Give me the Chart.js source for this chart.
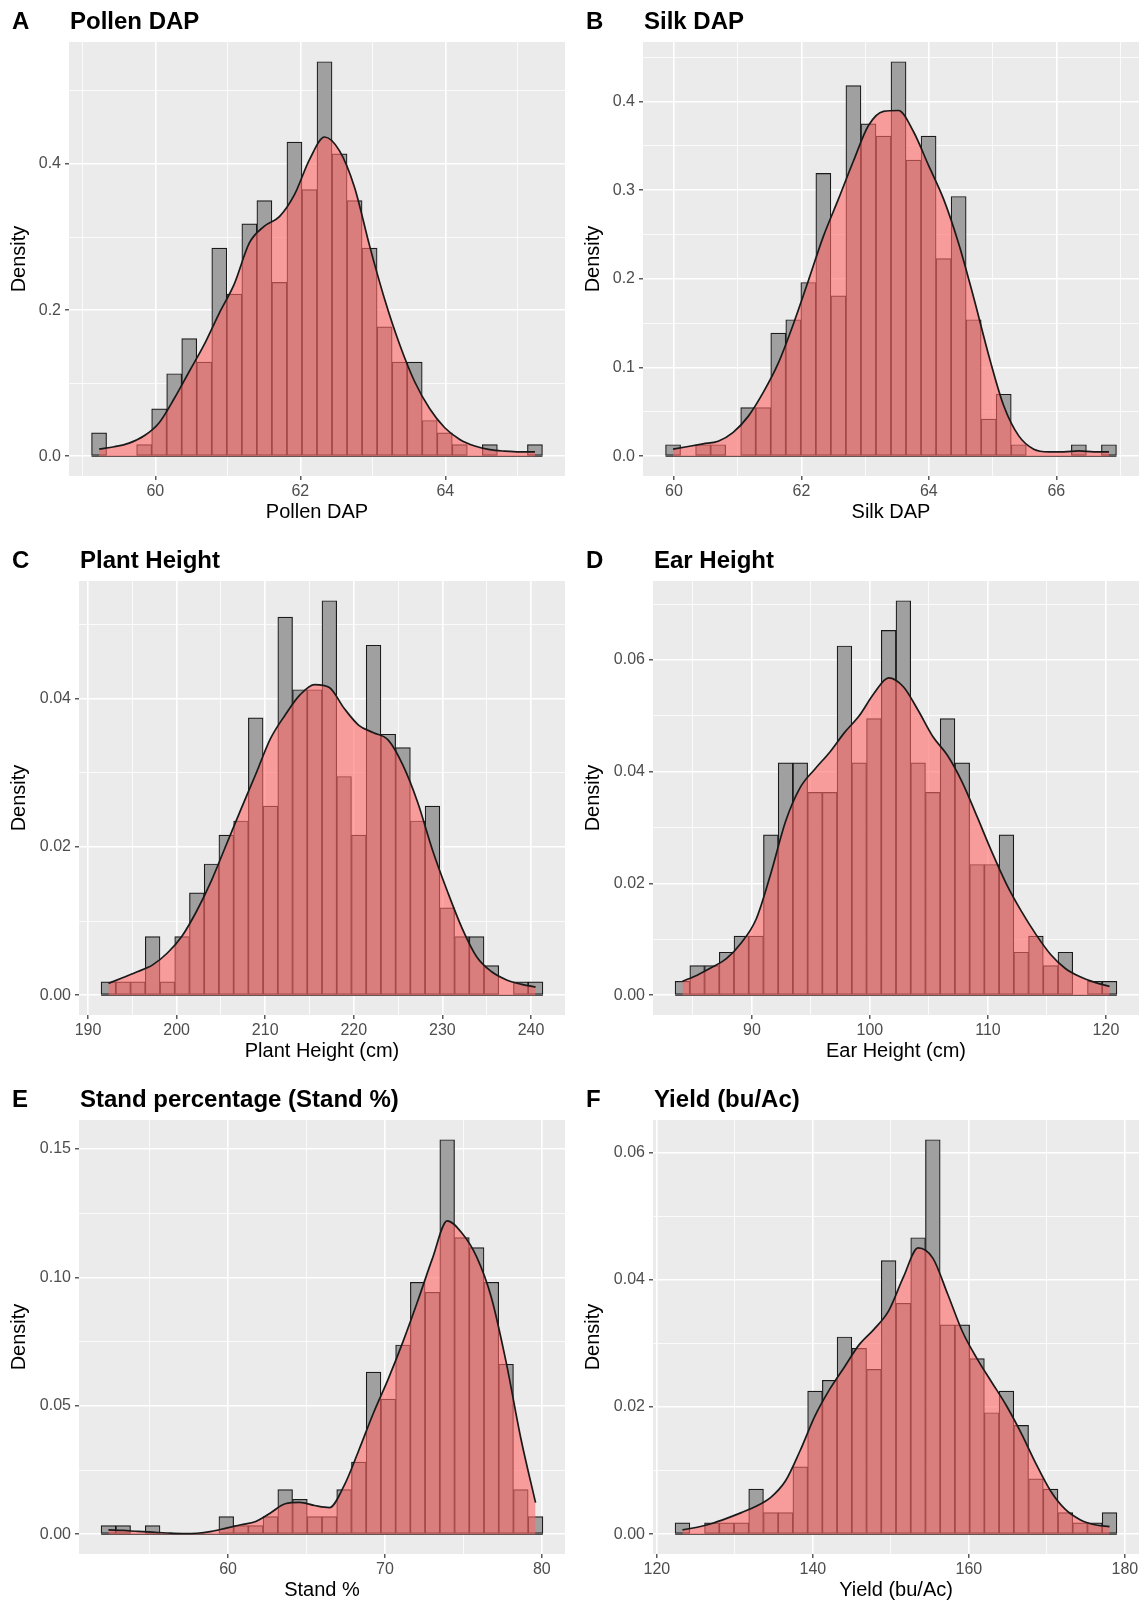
<!DOCTYPE html>
<html>
<head>
<meta charset="utf-8">
<script src="https://cdn.jsdelivr.net/npm/chart.js@4.4.1/dist/chart.umd.min.js"></script>
<style>
  body { margin: 0; background: #fff; width: 1140px; height: 1606px; overflow: hidden; position: relative;
         font-family: "Liberation Sans", Arial, sans-serif; }
  .cell { position: absolute; width: 574px; height: 539px; }
  .cell canvas { position: absolute; left: 0; top: 0; }
  .tag, .ttl { position: absolute; top: 9px; font-size: 24px; line-height: 24px; font-weight: bold; color: #000; white-space: nowrap; }
  .tag { left: 12px; }
</style>
</head>
<body>
<script>
// histogramas de densidad (30 bins) + curva de densidad

// A - Pollen DAP
const pollenStart = 59.12, pollenWidth = 0.2073;
const pollenBars = [0.032, 0, 0, 0.016, 0.065, 0.113, 0.161, 0.129, 0.285, 0.222, 0.318, 0.350, 0.238, 0.430, 0.365,
                    0.540, 0.414, 0.350, 0.285, 0.177, 0.129, 0.129, 0.049, 0.032, 0.016, 0, 0.016, 0, 0, 0.016];
const pollenDens = [0.010, 0.013, 0.018, 0.028, 0.046, 0.079, 0.116, 0.153, 0.196, 0.236, 0.292, 0.315, 0.328, 0.358, 0.406,
                    0.437, 0.418, 0.368, 0.288, 0.215, 0.153, 0.102, 0.065, 0.039, 0.023, 0.014, 0.009, 0.007, 0.006, 0.006];
const pollenXMajor = [60, 62, 64], pollenXMinor = [59, 61, 63, 65];
const pollenYMajor = [0, 0.2, 0.4], pollenYMinor = [0.1, 0.3, 0.5];

// B - Silk DAP
const silkStart = 59.869, silkWidth = 0.2358;
const silkBars = [0.013, 0, 0.013, 0.013, 0, 0.055, 0.055, 0.139, 0.154, 0.196, 0.319, 0.181, 0.418, 0.375, 0.361,
                  0.445, 0.334, 0.361, 0.223, 0.293, 0.154, 0.042, 0.070, 0.013, 0, 0, 0, 0.013, 0, 0.013];
const silkDens = [0.008, 0.011, 0.014, 0.017, 0.027, 0.045, 0.072, 0.105, 0.149, 0.198, 0.248, 0.290, 0.333, 0.373, 0.389,
                  0.390, 0.366, 0.328, 0.290, 0.240, 0.179, 0.114, 0.057, 0.023, 0.008, 0.005, 0.005, 0.006, 0.005, 0.005];
const silkXMajor = [60, 62, 64, 66], silkXMinor = [61, 63, 65, 67];
const silkYMajor = [0, 0.1, 0.2, 0.3, 0.4], silkYMinor = [0.05, 0.15, 0.25, 0.35, 0.45];

// C - Plant Height
const plantStart = 191.48, plantWidth = 1.662;
const plantBars = [0.0018, 0.0018, 0.0018, 0.0079, 0.0018, 0.0079, 0.0138, 0.0177, 0.0216, 0.0235, 0.0374, 0.0255, 0.0510, 0.0412, 0.0412,
                   0.0532, 0.0295, 0.0216, 0.0472, 0.0352, 0.0334, 0.0235, 0.0255, 0.0118, 0.0079, 0.0079, 0.0040, 0, 0.0018, 0.0018];
const plantDens = [0.0016, 0.0024, 0.0032, 0.0041, 0.0057, 0.0080, 0.0114, 0.0155, 0.0203, 0.0251, 0.0298, 0.0346, 0.0378, 0.0405, 0.0419,
                   0.0415, 0.0387, 0.0364, 0.0354, 0.0344, 0.0310, 0.0260, 0.0196, 0.0141, 0.0091, 0.0052, 0.0032, 0.0021, 0.0015, 0.0011];
const plantXMajor = [190, 200, 210, 220, 230, 240], plantXMinor = [195, 205, 215, 225, 235];
const plantYMajor = [0, 0.02, 0.04], plantYMinor = [0.01, 0.03, 0.05];

// D - Ear Height
const earStart = 83.49, earWidth = 1.248;
const earBars = [0.0025, 0.0053, 0.0053, 0.0077, 0.0106, 0.0106, 0.0287, 0.0416, 0.0416, 0.0363, 0.0363, 0.0625, 0.0416, 0.0495, 0.0653,
                 0.0706, 0.0416, 0.0363, 0.0495, 0.0416, 0.0234, 0.0234, 0.0287, 0.0077, 0.0106, 0.0053, 0.0077, 0, 0.0025, 0.0025];
const earDens = [0.0025, 0.0036, 0.0050, 0.0066, 0.0094, 0.0136, 0.0218, 0.0311, 0.0372, 0.0405, 0.0435, 0.0470, 0.0500, 0.0540, 0.0568,
                 0.0552, 0.0510, 0.0463, 0.0429, 0.0381, 0.0320, 0.0257, 0.0199, 0.0151, 0.0109, 0.0073, 0.0048, 0.0033, 0.0023, 0.0016];
const earXMajor = [90, 100, 110, 120], earXMinor = [85, 95, 105, 115];
const earYMajor = [0, 0.02, 0.04, 0.06], earYMinor = [0.01, 0.03, 0.05, 0.07];

// E - Stand %
const standStart = 51.91, standWidth = 0.9386;
const standBars = [0.0034, 0.0034, 0, 0.0034, 0, 0, 0, 0, 0.0069, 0.0034, 0.0034, 0.0069, 0.0174, 0.0136, 0.0069,
                   0.0069, 0.0174, 0.0281, 0.0631, 0.0526, 0.0737, 0.0981, 0.0942, 0.1536, 0.1155, 0.1116, 0.0981, 0.0662, 0.0174, 0.0069];
const standDens = [0.0017, 0.0015, 0.0011, 0.0008, 0.0005, 0.0003, 0.0004, 0.0011, 0.0024, 0.0037, 0.0050, 0.0083, 0.0119, 0.0124, 0.0112,
                   0.0104, 0.0189, 0.0327, 0.0473, 0.0605, 0.0750, 0.0908, 0.1074, 0.1220, 0.1173, 0.1080, 0.0922, 0.0671, 0.0374, 0.0123];
const standXMajor = [60, 70, 80], standXMinor = [55, 65, 75];
const standYMajor = [0, 0.05, 0.10, 0.15], standYMinor = [0.025, 0.075, 0.125];

// F - Yield
const yieldStart = 122.34, yieldWidth = 1.888;
const yieldBars = [0.0018, 0, 0.0018, 0.0018, 0.0018, 0.0071, 0.0034, 0.0034, 0.0106, 0.0225, 0.0242, 0.0310, 0.0292, 0.0259, 0.0430,
                   0.0363, 0.0466, 0.0620, 0.0329, 0.0329, 0.0276, 0.0191, 0.0225, 0.0171, 0.0087, 0.0071, 0.0034, 0.0018, 0.0018, 0.0034];
const yieldDens = [0.0007, 0.0011, 0.0017, 0.0025, 0.0034, 0.0044, 0.0058, 0.0084, 0.0132, 0.0186, 0.0228, 0.0263, 0.0298, 0.0322, 0.0351,
                   0.0404, 0.0450, 0.0434, 0.0378, 0.0319, 0.0276, 0.0239, 0.0202, 0.0159, 0.0111, 0.0068, 0.0039, 0.0023, 0.0015, 0.0012];
const yieldXMajor = [120, 140, 160, 180], yieldXMinor = [130, 150, 170];
const yieldYMajor = [0, 0.02, 0.04, 0.06], yieldYMinor = [0.01, 0.03, 0.05];

const panels = [
  { tag: 'A', title: 'Pollen DAP', xTitle: 'Pollen DAP', start: pollenStart, width: pollenWidth, bars: pollenBars, dens: pollenDens,
    xMajor: pollenXMajor, xMinor: pollenXMinor, yMajor: pollenYMajor, yMinor: pollenYMinor, digits: 1 },
  { tag: 'B', title: 'Silk DAP', xTitle: 'Silk DAP', start: silkStart, width: silkWidth, bars: silkBars, dens: silkDens,
    xMajor: silkXMajor, xMinor: silkXMinor, yMajor: silkYMajor, yMinor: silkYMinor, digits: 1 },
  { tag: 'C', title: 'Plant Height', xTitle: 'Plant Height (cm)', start: plantStart, width: plantWidth, bars: plantBars, dens: plantDens,
    xMajor: plantXMajor, xMinor: plantXMinor, yMajor: plantYMajor, yMinor: plantYMinor, digits: 2 },
  { tag: 'D', title: 'Ear Height', xTitle: 'Ear Height (cm)', start: earStart, width: earWidth, bars: earBars, dens: earDens,
    xMajor: earXMajor, xMinor: earXMinor, yMajor: earYMajor, yMinor: earYMinor, digits: 2 },
  { tag: 'E', title: 'Stand percentage (Stand %)', xTitle: 'Stand %', start: standStart, width: standWidth, bars: standBars, dens: standDens,
    xMajor: standXMajor, xMinor: standXMinor, yMajor: standYMajor, yMinor: standYMinor, digits: 2 },
  { tag: 'F', title: 'Yield (bu/Ac)', xTitle: 'Yield (bu/Ac)', start: yieldStart, width: yieldWidth, bars: yieldBars, dens: yieldDens,
    xMajor: yieldXMajor, xMinor: yieldXMinor, yMajor: yieldYMajor, yMinor: yieldYMinor, digits: 2 }
];

Chart.defaults.font.family = '"Liberation Sans", Arial, sans-serif';

// fondo gris del panel (estilo ggplot)
const panelBg = {
  id: 'panelBg',
  beforeDraw(chart) {
    const { ctx, chartArea: a } = chart;
    ctx.save();
    ctx.fillStyle = '#ebebeb';
    ctx.fillRect(a.left, a.top, a.right - a.left, a.bottom - a.top);
    ctx.restore();
  }
};

function tickList(major, minor) {
  return major.map(v => ({ value: v, isMajor: true }))
    .concat(minor.map(v => ({ value: v, isMajor: false })))
    .sort((a, b) => a.value - b.value);
}

const gridOpts = {
  color: '#ffffff',
  offset: false,
  lineWidth: c => (c.tick && c.tick.isMajor ? 1.6 : 0.8),
  drawTicks: true,
  tickLength: 4,
  tickWidth: 1.2,
  tickColor: c => (c.tick && c.tick.isMajor ? '#333333' : 'rgba(0,0,0,0)')
};

function drawPanel(p, i) {
  const col = i % 2, row = Math.floor(i / 2);
  const axisW = p.digits === 1 ? 69 : 79;

  const cell = document.createElement('div');
  cell.className = 'cell';
  cell.style.left = (col * 574) + 'px';
  cell.style.top = (row * 539) + 'px';
  const canvas = document.createElement('canvas');
  canvas.width = 574; canvas.height = 539;
  canvas.style.width = '574px'; canvas.style.height = '539px';
  cell.appendChild(canvas);
  const tag = document.createElement('div');
  tag.className = 'tag'; tag.textContent = p.tag;
  const ttl = document.createElement('div');
  ttl.className = 'ttl'; ttl.textContent = p.title; ttl.style.left = (axisW + 1) + 'px';
  cell.appendChild(tag); cell.appendChild(ttl);
  document.body.appendChild(cell);

  const n = p.bars.length;
  const span = p.width * n;
  const centers = p.bars.map((_, k) => p.start + p.width * (k + 0.5));
  const top = Math.max(...p.bars, ...p.dens);

  new Chart(canvas, {
    type: 'bar',
    data: {
      datasets: [
        { type: 'line', data: centers.map((x, k) => ({ x, y: p.dens[k] })),
          borderColor: '#1a1a1a', borderWidth: 1.7, backgroundColor: 'rgba(255,102,102,0.6)',
          fill: 'origin', pointRadius: 0, cubicInterpolationMode: 'monotone', order: 0 },
        { type: 'line', data: [{ x: p.start, y: 0 }, { x: p.start + span, y: 0 }],
          borderColor: '#1a1a1a', borderWidth: 1.2, pointRadius: 0, fill: false, order: 1 },
        { type: 'bar', data: centers.map((x, k) => ({ x, y: p.bars[k] })),
          backgroundColor: '#a0a0a0', borderColor: '#1a1a1a', borderWidth: 1.2, borderSkipped: false,
          barPercentage: 1, categoryPercentage: 1, order: 2 }
      ]
    },
    options: {
      responsive: false,
      animation: false,
      layout: { padding: { top: 42, right: 9, left: 0, bottom: 0 } },
      plugins: { legend: { display: false }, tooltip: { enabled: false } },
      scales: {
        x: {
          type: 'linear',
          offset: false,
          min: p.start - 0.05 * span,
          max: p.start + 1.05 * span,
          afterBuildTicks: s => { s.ticks = tickList(p.xMajor, p.xMinor); },
          afterFit: s => { s.height = 63; },
          grid: gridOpts,
          border: { display: false },
          ticks: { autoSkip: false, maxRotation: 0, padding: 2, color: '#4d4d4d', font: { size: 16 },
                   callback: (v, k, t) => (t[k].isMajor ? String(v) : '') },
          title: { display: true, text: p.xTitle, color: '#000', font: { size: 20 }, padding: { top: 0, bottom: 15 } }
        },
        y: {
          type: 'linear',
          min: -0.05 * top,
          max: 1.05 * top,
          afterBuildTicks: s => { s.ticks = tickList(p.yMajor, p.yMinor); },
          afterFit: s => { s.width = axisW; },
          grid: gridOpts,
          border: { display: false },
          ticks: { autoSkip: false, padding: 4, color: '#4d4d4d', font: { size: 16 },
                   callback: (v, k, t) => (t[k].isMajor ? v.toFixed(p.digits) : '') },
          title: { display: true, text: 'Density', color: '#000', font: { size: 20 }, padding: { top: 7, bottom: 0 } }
        }
      }
    },
    plugins: [panelBg]
  });
}

panels.forEach(drawPanel);
</script>
</body>
</html>
